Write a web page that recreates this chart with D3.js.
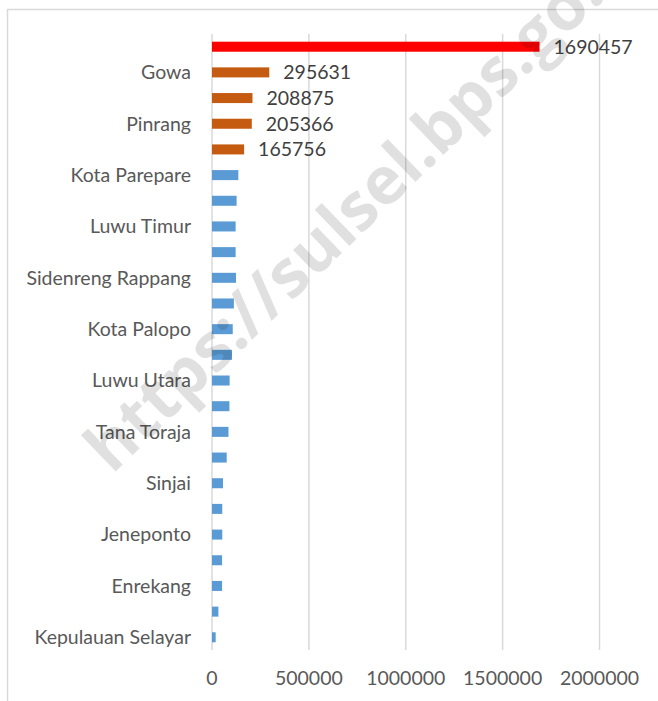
<!DOCTYPE html>
<html>
<head>
<meta charset="utf-8">
<script src="https://cdn.jsdelivr.net/npm/d3@7"></script>
<style>
  body { margin: 0; background: #fff; }
  svg { display: block; }
</style>
</head>
<body>
<svg width="658" height="701"></svg>
<script>
const svg = d3.select("svg");

// DATA (top to bottom); only every other label is shown, as in the original
const regions = [
  "Kota Makassar", "Gowa", "Bone", "Pinrang", "Maros", "Kota Parepare",
  "Wajo", "Luwu Timur", "Bulukumba", "Sidenreng Rappang", "Luwu", "Kota Palopo",
  "Pangkajene Kepulauan", "Luwu Utara", "Toraja Utara", "Tana Toraja", "Soppeng", "Sinjai",
  "Takalar", "Jeneponto", "Barru", "Enrekang", "Bantaeng", "Kepulauan Selayar"
];
const values = [
  1690457, 295631, 208875, 205366, 165756, 136000,
  127000, 122000, 122000, 124000, 113000, 107000,
  103000, 91000, 90000, 85000, 76000, 57000,
  53000, 53000, 52000, 52000, 33000, 19000
];
const labelled = [0, 1, 2, 3, 4]; // rows with value labels
const xTicks = [0, 500000, 1000000, 1500000, 2000000];

const data = regions.map((name, i) => ({ name, value: values[i], i }));

// CONSTANTS
const margin = { top: 34, left: 212, right: 58, bottom: 51 };
const width = 658, height = 701;
const innerHeight = height - margin.top - margin.bottom;
const font = "Lato, 'Open Sans', sans-serif";
const fontSize = 19.5;

const colorOf = i => i === 0 ? "#ff0000" : i <= 4 ? "#c55a11" : "#5b9bd5";

// SCALES
const xScale = d3.scaleLinear().domain([0, 2000000]).range([0, 387.5]);
const yScale = d3.scaleBand()
  .domain(regions)
  .range([0, innerHeight])
  .paddingInner(0.61)
  .paddingOuter(0.3);

// outer chart frame (cropped on the right)
svg.append("rect")
  .attr("x", 7.5).attr("y", 9.5)
  .attr("width", 700).attr("height", 720)
  .attr("fill", "none")
  .attr("stroke", "#d9d9d9")
  .attr("stroke-width", 1.5);

const g = svg.append("g").attr("transform", `translate(${margin.left}, ${margin.top})`);

// gridlines
g.selectAll("line.grid").data(xTicks).enter().append("line")
  .attr("class", "grid")
  .attr("x1", d => xScale(d)).attr("x2", d => xScale(d))
  .attr("y1", 0).attr("y2", innerHeight)
  .attr("stroke", "#d9d9d9")
  .attr("stroke-width", 1.5);

// x tick labels
g.selectAll("text.xtick").data(xTicks).enter().append("text")
  .attr("class", "xtick")
  .attr("x", d => xScale(d))
  .attr("y", innerHeight + 28)
  .attr("dy", "0.35em")
  .attr("text-anchor", "middle")
  .attr("font-family", font)
  .attr("font-size", fontSize)
  .attr("fill", "#595959")
  .text(d => d);

// bars
g.selectAll("rect.bar").data(data).enter().append("rect")
  .attr("class", "bar")
  .attr("x", 0)
  .attr("y", d => yScale(d.name))
  .attr("width", d => xScale(d.value))
  .attr("height", yScale.bandwidth())
  .attr("fill", d => colorOf(d.i));

// category labels (every other)
g.selectAll("text.cat").data(data.filter(d => d.i % 2 === 1)).enter().append("text")
  .attr("class", "cat")
  .attr("x", -21)
  .attr("y", d => yScale(d.name) + yScale.bandwidth() / 2)
  .attr("dy", "0.35em")
  .attr("text-anchor", "end")
  .attr("font-family", font)
  .attr("font-size", fontSize)
  .attr("fill", "#595959")
  .text(d => d.name);

// value labels
g.selectAll("text.val").data(data.filter(d => labelled.includes(d.i))).enter().append("text")
  .attr("class", "val")
  .attr("x", d => xScale(d.value) + 14)
  .attr("y", d => yScale(d.name) + yScale.bandwidth() / 2)
  .attr("dy", "0.35em")
  .attr("font-family", font)
  .attr("font-size", fontSize)
  .attr("fill", "#404040")
  .text(d => d.value);

// watermark
svg.append("text")
  .attr("transform", "translate(112, 475) rotate(-44)")
  .attr("font-family", "'Open Sans', sans-serif")
  .attr("font-weight", "bold")
  .attr("font-size", 66)
  .attr("fill", "rgba(0,0,0,0.12)")
  .text("https://sulsel.bps.go.id");
</script>
</body>
</html>
